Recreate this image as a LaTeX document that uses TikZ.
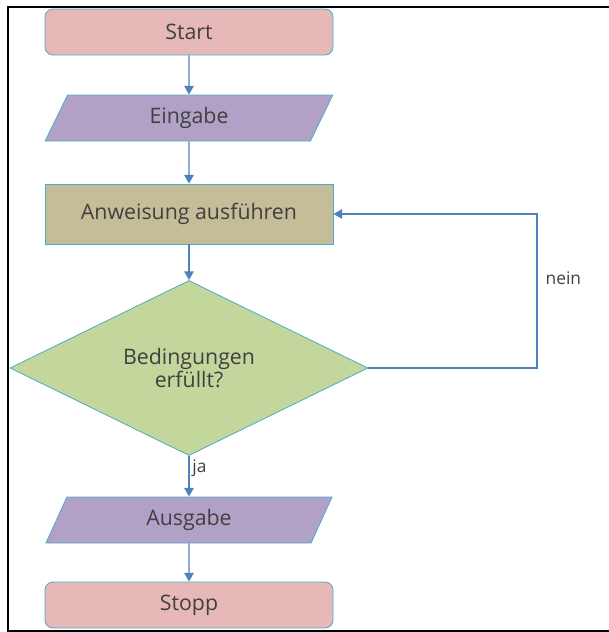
\documentclass[tikz,border=0pt]{standalone}
\usepackage{fontspec}
\setmainfont{Open Sans}
\usetikzlibrary{shapes.geometric,arrows.meta}
\definecolor{termfill}{HTML}{E6B9B8}
\definecolor{iofill}{HTML}{B2A1C7}
\definecolor{procfill}{HTML}{C4BD97}
\definecolor{decfill}{HTML}{C3D69B}
\definecolor{rim}{HTML}{4BACC6}
\definecolor{flow}{HTML}{4F81BD}
\begin{document}
\begin{tikzpicture}[x=0.75pt,y=-0.75pt,
    every node/.style={font=\fontsize{16}{17.5}\selectfont,text=black!75},
    term/.style={draw=rim,fill=termfill,line width=0.6pt,rounded corners=6pt,minimum width=216pt,minimum height=34.5pt},
    iobox/.style={draw=rim,fill=iofill,line width=0.6pt,trapezium,trapezium left angle=75,trapezium right angle=105,trapezium stretches=true,minimum width=216pt,minimum height=34.5pt},
    proc/.style={draw=rim,fill=procfill,line width=0.6pt,minimum width=216pt,minimum height=45pt},
    decide/.style={draw=rim,fill=decfill,line width=0.6pt,diamond,aspect=2,align=center,minimum width=268.5pt,minimum height=131.25pt,inner sep=0pt},
    flowline/.style={draw=flow,line width=1.1pt,-{Triangle[width=7pt,length=6.5pt]}},
    small/.style={font=\fontsize{13}{15}\selectfont}]
  \useasboundingbox (0,0) rectangle (609,632);
  \draw[line width=1.5pt] (609,7) -- (8,7) -- (8,631) -- (609,631);
  \node[term] (start) at (189,32) {Start};
  \node[iobox] (in) at (189,118) {Eingabe};
  \node[proc] (anw) at (189,214) {Anweisung ausführen};
  \node[decide] (dec) at (189,368) {Bedingungen\\erfüllt?};
  \node[iobox] (out) at (189,520) {Ausgabe};
  \node[term] (stop) at (189,605) {Stopp};
  \coordinate (loop) at (537,368);
  \draw[flowline] (start) -- (in);
  \draw[flowline] (in) -- (anw);
  \draw[flowline] (anw) -- (dec);
  \draw[flowline] (dec) -- node[pos=0.3,right,small,inner sep=2pt] {ja} (out);
  \draw[flowline] (out) -- (stop);
  \draw[flowline] (dec.east) -- (loop) |- node[pos=0.29,right,small,inner sep=6pt] {nein} (anw.east);
\end{tikzpicture}
\end{document}
